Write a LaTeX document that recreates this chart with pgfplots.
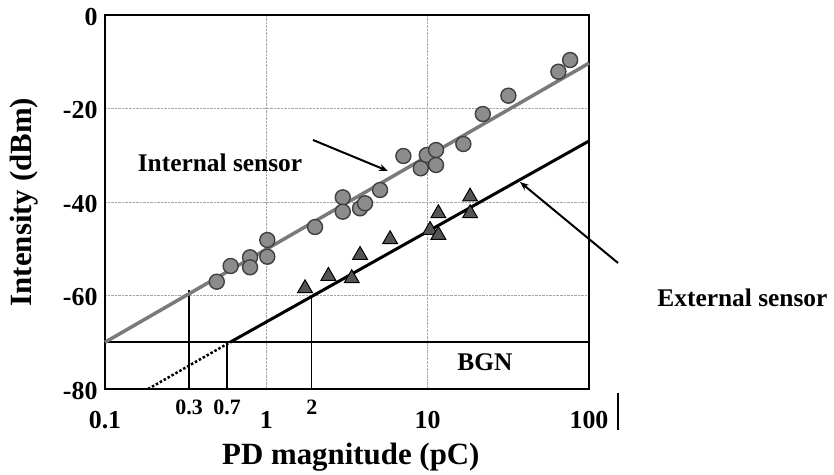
\documentclass[border=0pt]{standalone}
\usepackage{fontspec}
\setmainfont{Liberation Serif}
\usepackage{pgfplots}
\pgfplotsset{compat=1.18}
\usetikzlibrary{arrows.meta}

\definecolor{intline}{HTML}{7A7A7A}
\definecolor{dotfill}{HTML}{8C8C8C}
\definecolor{dotedge}{HTML}{404040}
\definecolor{trifill}{HTML}{555555}

\begin{document}
\begin{tikzpicture}[x=1bp,y=1bp]
\useasboundingbox (-105,-86) rectangle (729,389);
\begin{axis}[
    at={(0,0)}, anchor=south west,
    scale only axis, width=484bp, height=374bp,
    xmode=log, xmin=0.1, xmax=100, ymin=-80, ymax=0,
    xtick={0.1,1,10,100}, xticklabels={0.1,1,10,100},
    ytick={-80,-60,-40,-20,0}, yticklabels={-80,-60,-40,-20,0},
    extra x ticks={0.3318,0.571,1.912},
    extra x tick labels={0.3,0.7,2},
    extra x tick style={grid=none,
        xticklabel style={font=\fontsize{22}{22}\selectfont\bfseries, yshift=12bp}},
    major tick length=0, minor tick length=0,
    grid=major, grid style={densely dotted, gray!70, line width=0.8bp},
    axis line style={line width=2.5bp},
    tick label style={font=\fontsize{26}{26}\selectfont\bfseries},
    xticklabel style={yshift=-19bp},
    yticklabel style={xshift=-4bp, yshift=-2bp},
    label style={font=\fontsize{31}{31}\selectfont\bfseries},
    xlabel={PD magnitude (pC)},
    ylabel={Intensity (dBm)},
    xlabel style={at={(axis description cs:0.508,-0.182)}, anchor=center},
    ylabel style={at={(axis description cs:-0.167,0.5)}, anchor=center},
    clip=false,
]
% background noise level and read-off lines
\addplot[black, line width=2bp] coordinates {(0.1,-70) (100,-70)};
\addplot[black, line width=1.5bp] coordinates {(0.3318,-80) (0.3318,-58.9)};
\addplot[black, line width=1.5bp] coordinates {(0.571,-80) (0.571,-70)};
\addplot[black, line width=1.5bp] coordinates {(1.912,-80) (1.912,-60.3)};
\addplot[black, line width=2.5bp, dotted] coordinates {(0.185,-80) (0.596,-70)};

% fitted lines
\addplot[intline, line width=3.5bp] coordinates {(0.1,-70) (100,-10.3)};
\addplot[black, line width=3bp] coordinates {(0.596,-70) (100,-26.95)};

% internal sensor
\addplot[only marks, mark=*, mark size=7.5bp,
    mark options={fill=dotfill, draw=dotedge, line width=1.4bp}] coordinates {
    (0.493,-57.05) (0.601,-53.69) (0.793,-51.83) (0.793,-53.97)
    (1.014,-48.13) (1.014,-51.70) (2.004,-45.35) (2.977,-39.0)
    (2.977,-42.07) (3.81,-41.35) (4.09,-40.28) (5.07,-37.43)
    (7.07,-30.16) (9.06,-32.79) (9.87,-29.95) (11.27,-28.88)
    (11.27,-32.09) (16.64,-27.59) (21.96,-21.18) (31.64,-17.26)
    (64.6,-12.13) (76.4,-9.63)
};

% external sensor
\addplot[only marks, mark=triangle*, mark size=8.5bp,
    mark options={fill=trifill, draw=black, line width=1bp}] coordinates {
    (1.738,-58.46) (2.424,-55.83) (3.384,-56.32) (3.81,-51.34)
    (5.85,-47.98) (10.35,-45.99) (11.65,-42.42) (11.65,-47.06)
    (18.32,-38.87) (18.32,-42.42)
};

\node[font=\fontsize{25.5}{25.5}\selectfont\bfseries] at (axis description cs:0.2376,0.6043) {Internal sensor};
\node[font=\fontsize{25.5}{25.5}\selectfont\bfseries] at (axis description cs:1.317,0.2433) {External sensor};
\node[font=\fontsize{25.5}{25.5}\selectfont\bfseries] at (axis description cs:0.785,0.0722) {BGN};
\draw[line width=2bp, -{Stealth[length=9bp,width=7bp]}]
    (axis description cs:0.4298,0.6658) -- (axis description cs:0.5847,0.5829);
\draw[line width=2bp, -{Stealth[length=9bp,width=7bp]}]
    (axis description cs:1.06,0.3369) -- (axis description cs:0.8574,0.5535);
\draw[black, line width=2bp] (axis description cs:1.06,-0.011) -- (axis description cs:1.06,-0.11);
\end{axis}
\end{tikzpicture}
\end{document}
